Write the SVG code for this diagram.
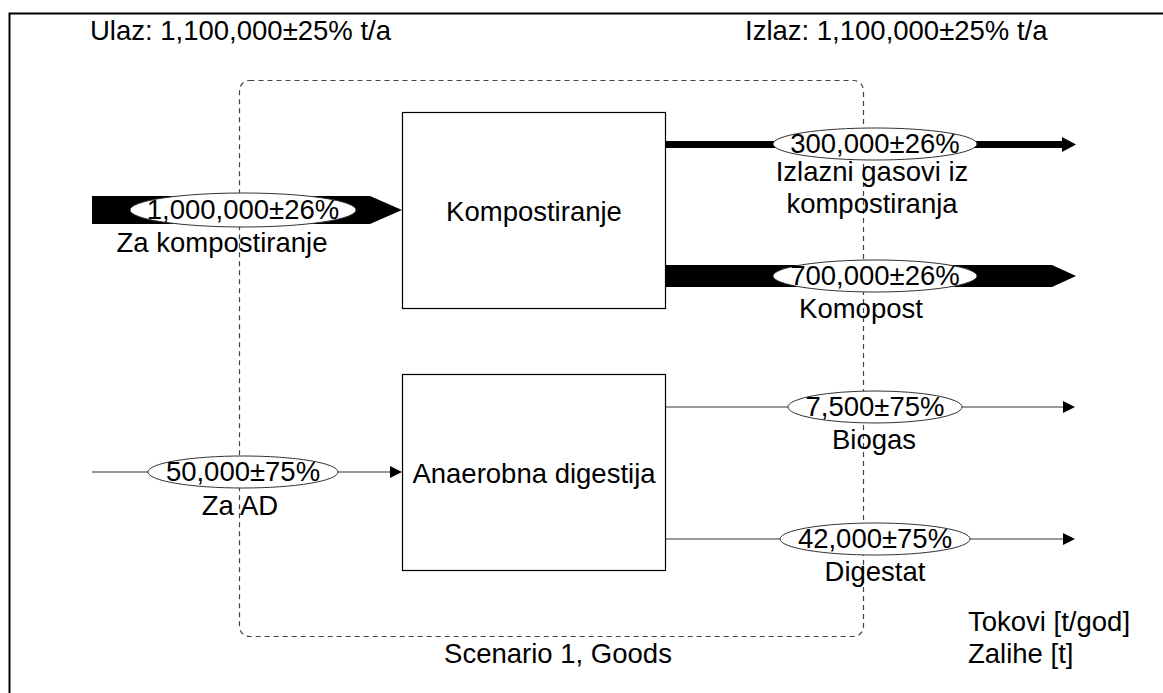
<svg xmlns="http://www.w3.org/2000/svg" width="1163" height="693" viewBox="0 0 1163 693">
  <style>
    text { font-family: "Liberation Sans", Arial, sans-serif; font-size: 27.5px; fill: #000; }
    .mid { text-anchor: middle; }
    .proc { fill: #fff; stroke: #000; stroke-width: 1.2; }
    .lbl { fill: #fff; stroke: #333; stroke-width: 1; }
    .thin { stroke: #777; stroke-width: 1.5; fill: none; }
    .bar { fill: #000; }
  </style>

  <rect width="1163" height="693" fill="#fff"/>
  <!-- frame (top and left edges) -->
  <path d="M9.5,693 L9.5,13.5 L1163,13.5" fill="none" stroke="#000" stroke-width="2"/>

  <text x="90" y="40">Ulaz: 1,100,000±25% t/a</text>
  <text x="745" y="40">Izlaz: 1,100,000±25% t/a</text>

  <!-- system boundary -->
  <g id="boundary">
    <rect x="239.5" y="80.5" width="624" height="556" rx="10" ry="10" fill="none" stroke="#444" stroke-width="1.2" stroke-dasharray="5,4"/>
    <text class="mid" x="558" y="663">Scenario 1, Goods</text>
  </g>

  <!-- flows -->
  <g id="connectors">
    <!-- Za kompostiranje -->
    <path class="bar" d="M92,196 L370,196 L402,210 L370,224 L92,224 Z"/>
    <!-- Izlazni gasovi -->
    <path class="bar" d="M665,141 L1062,141 L1062,137 L1076,144.5 L1062,152 L1062,148 L665,148 Z"/>
    <!-- Komopost -->
    <path class="bar" d="M665,265 L1052,265 L1076,276 L1052,287 L665,287 Z"/>
    <!-- Za AD -->
    <line class="thin" x1="92" y1="472" x2="392" y2="472"/>
    <path d="M390,466 L402,472 L390,478 Z" fill="#000"/>
    <!-- Biogas -->
    <line class="thin" x1="665" y1="407" x2="1064" y2="407"/>
    <path d="M1063,401 L1075,407 L1063,413 Z" fill="#000"/>
    <!-- Digestat -->
    <line class="thin" x1="665" y1="539" x2="1064" y2="539"/>
    <path d="M1063,533 L1075,539 L1063,545 Z" fill="#000"/>
  </g>

  <!-- processes -->
  <g id="kompostiranje">
    <rect class="proc" x="402.5" y="112.5" width="263" height="196"/>
    <text class="mid" x="534" y="221">Kompostiranje</text>
  </g>
  <g id="anaerobna-digestija">
    <rect class="proc" x="402.5" y="374.5" width="263" height="196"/>
    <text class="mid" x="534" y="483">Anaerobna digestija</text>
  </g>

  <!-- flow labels -->
  <g id="flow-za-kompostiranje">
    <ellipse class="lbl" cx="243" cy="210" rx="113" ry="17"/>
    <text class="mid" x="243" y="219">1,000,000±26%</text>
    <text class="mid" x="222" y="252">Za kompostiranje</text>
  </g>
  <g id="flow-izlazni-gasovi">
    <ellipse class="lbl" cx="875" cy="144" rx="102" ry="16"/>
    <text class="mid" x="875" y="153">300,000±26%</text>
    <text class="mid" x="872" y="181">Izlazni gasovi iz</text>
    <text class="mid" x="872" y="213">kompostiranja</text>
  </g>
  <g id="flow-komopost">
    <ellipse class="lbl" cx="875" cy="276" rx="102" ry="16"/>
    <text class="mid" x="875" y="285">700,000±26%</text>
    <text class="mid" x="861" y="318">Komopost</text>
  </g>
  <g id="flow-za-ad">
    <ellipse class="lbl" cx="243" cy="472" rx="95" ry="16"/>
    <text class="mid" x="243" y="481">50,000±75%</text>
    <text class="mid" x="240" y="515">Za AD</text>
  </g>
  <g id="flow-biogas">
    <ellipse class="lbl" cx="875" cy="407" rx="87" ry="16"/>
    <text class="mid" x="875" y="416">7,500±75%</text>
    <text class="mid" x="874" y="449">Biogas</text>
  </g>
  <g id="flow-digestat">
    <ellipse class="lbl" cx="875" cy="539" rx="95" ry="16"/>
    <text class="mid" x="875" y="548">42,000±75%</text>
    <text class="mid" x="875" y="581">Digestat</text>
  </g>

  <!-- legend -->
  <text x="968" y="631">Tokovi [t/god]</text>
  <text x="968" y="663">Zalihe [t]</text>
</svg>
